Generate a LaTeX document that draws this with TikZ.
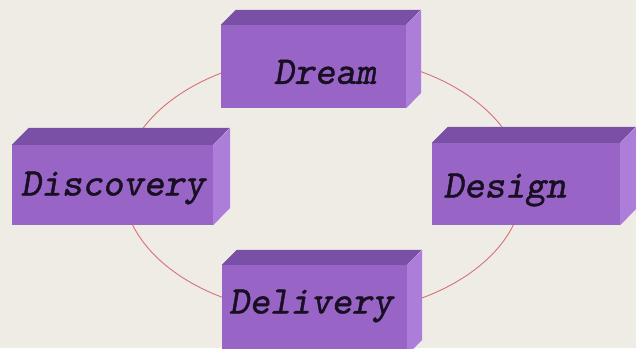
\documentclass[tikz,border=0pt]{standalone}
\usepackage{fontspec}
\newfontfamily\boxfont{lmmonoslant10-regular.otf}[FakeBold=1.2]
\definecolor{bg}{RGB}{238,236,229}
\definecolor{frontc}{RGB}{152,100,198}
\definecolor{topc}{RGB}{122,80,166}
\definecolor{sidec}{RGB}{172,126,218}
\definecolor{ring}{RGB}{216,112,118}
\definecolor{ink}{RGB}{25,15,35}
\tikzset{
  frontface/.style={fill=frontc, draw=none, inner sep=0pt, rectangle},
  topface/.style={fill=topc},
  sideface/.style={fill=sidec},
  ringline/.style={draw=ring, line width=0.9pt},
  lbl/.style={inner sep=0pt, text=ink, font=\boxfont\fontsize{39}{44}\selectfont},
}
\newcommand{\mybox}[6]{% name, cx, cy, w, h, depth
  \node[frontface, minimum width=#4pt, minimum height=#5pt] (#1) at (#2,#3) {};
  \fill[topface] (#1.north west) -- ++(#6,-#6) -- ++(#4,0) -- (#1.north east) -- cycle;
  \fill[sideface] (#1.north east) -- ++(#6,-#6) -- ++(0,#5) -- (#1.south east) -- cycle;
}
\begin{document}
\begin{tikzpicture}[x=1pt,y=-1pt]
\useasboundingbox (0,0) rectangle (636,348);
\fill[bg] (0,0) rectangle (636,348);
\draw[ringline] (323,185) ellipse [x radius=200, y radius=130];
\mybox{dream}{313.5}{66.5}{185}{83}{15}
\mybox{discovery}{112.5}{185}{201}{80}{17}
\mybox{design}{526}{184}{188}{82}{16}
\mybox{delivery}{314.5}{310}{185}{90}{15}
\node[lbl] (dreamt) at (325,72) {Dream};
\node[lbl] (discoveryt) at (113,188) {Discovery};
\node[lbl] (designt) at (505,190) {Design};
\node[lbl] (deliveryt) at (311,306) {Delivery};
\end{tikzpicture}
\end{document}
